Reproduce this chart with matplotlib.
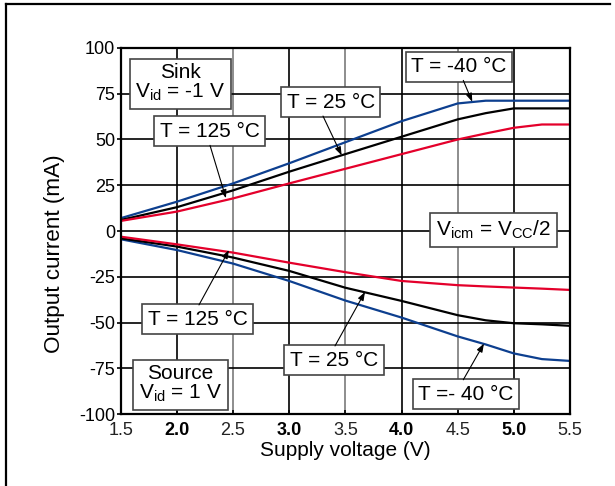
import matplotlib
matplotlib.use("Agg")
import matplotlib.pyplot as plt
from matplotlib.lines import Line2D

plt.rcParams['font.family'] = ['Liberation Sans', 'DejaVu Sans']
plt.rcParams['mathtext.fontset'] = 'custom'
plt.rcParams['mathtext.rm'] = 'Liberation Sans'
plt.rcParams['mathtext.it'] = 'Liberation Sans'

# ---- data ----
voltage = [1.5, 2.0, 2.5, 3.0, 3.5, 4.0, 4.5, 4.75, 5.0, 5.25, 5.5]
sink_m40 = [7, 16, 26, 37, 48.5, 60, 69.7, 71.2, 71.2, 71.2, 71.2]
sink_25 = [6, 13, 22.2, 32.4, 42, 51.5, 61, 64.4, 67, 67, 67]
sink_125 = [5.5, 10.6, 17.8, 26, 34, 42, 50, 53.3, 56.4, 58.2, 58.2]
source_m40 = [-4.5, -10.4, -17.8, -27.3, -38, -47.3, -57.6, -62, -66.9, -70, -71]
source_25 = [-4, -8.5, -14.5, -21.8, -31, -38.2, -46, -48.8, -50.4, -51, -51.8]
source_125 = [-3.1, -7.3, -11.8, -17.3, -22.5, -27.3, -29.6, -30.3, -30.9, -31.5, -32.2]

xticks = [1.5, 2.0, 2.5, 3.0, 3.5, 4.0, 4.5, 5.0, 5.5]
yticks = [-100, -75, -50, -25, 0, 25, 50, 75, 100]

BLUE = '#0d3f8f'
RED = '#e4002b'
BLACK = '#000000'

fig = plt.figure(figsize=(6.15, 4.86), dpi=100)
ax = fig.add_axes([120.7/615, 1-414/486, (570-120.7)/615, (414-48)/486])

ax.set_xlim(1.5, 5.5)
ax.set_ylim(-100, 100)

# grid
for x in xticks:
    col = '#000000' if float(x).is_integer() else '#7a7a7a'
    ax.axvline(x, color=col, lw=1.2, zorder=1)
for y in yticks:
    ax.axhline(y, color='#000000', lw=1.2, zorder=1)

lw = 1.6
ax.plot(voltage, sink_m40, color=BLUE, lw=lw, zorder=3)
ax.plot(voltage, sink_25, color=BLACK, lw=lw, zorder=3)
ax.plot(voltage, sink_125, color=RED, lw=lw, zorder=3)
ax.plot(voltage, source_m40, color=BLUE, lw=lw, zorder=3)
ax.plot(voltage, source_25, color=BLACK, lw=lw, zorder=3)
ax.plot(voltage, source_125, color=RED, lw=lw, zorder=3)

ax.set_xticks(xticks)
ax.set_xticklabels([f"{x:.1f}" for x in xticks], fontsize=13)
for lab, x in zip(ax.get_xticklabels(), xticks):
    if float(x).is_integer():
        lab.set_fontweight('bold')
    else:
        lab.set_color('#222222')
ax.set_yticks(yticks)
ax.set_yticklabels([str(y) for y in yticks], fontsize=13)
ax.tick_params(axis='x', direction='in', length=3, width=1.2, pad=6)
ax.tick_params(axis='y', direction='out', length=3, width=1.2, pad=1)

for s in ax.spines.values():
    s.set_linewidth(1.6)
    s.set_zorder(5)

ax.set_xlabel('Supply voltage (V)', fontsize=15, labelpad=1)
ax.set_ylabel('Output current (mA)', fontsize=16.2)
ax.yaxis.set_label_coords(-0.125, 0.437)

bbox = dict(boxstyle='square,pad=0.27', fc='white', ec='#444444', lw=1.2)
fs = 15

def label(x, y, s, ha='center'):
    ax.text(x, y, s, fontsize=fs, ha=ha, va='center', bbox=bbox, zorder=6,
            linespacing=1.0)

def arrow(tail, head):
    ax.annotate('', xy=head, xytext=tail,
                arrowprops=dict(arrowstyle='-|>,head_length=0.5,head_width=0.18',
                                color='black', lw=0.8, shrinkA=0, shrinkB=0),
                zorder=7)

label(2.031, 80.7, 'Sink\nV$_\\mathregular{id}$ = -1 V')
label(2.032, -83.7, 'Source\nV$_\\mathregular{id}$ = 1 V')

label(2.294, 54.5, 'T = 125 °C')
arrow((2.295, 46.8), (2.437, 17.9))
label(3.369, 70.3, 'T = 25 °C')
arrow((3.301, 62.8), (3.467, 41.3))
label(4.511, 89.8, 'T = -40 °C')
arrow((4.55, 82.3), (4.63, 70.6))

label(4.817, 0.4, 'V$_\\mathregular{icm}$ = V$_\\mathregular{CC}$/2')

label(2.184, -48.1, 'T = 125 °C')
arrow((2.197, -40.4), (2.464, -10.4))
label(3.399, -70.5, 'T = 25 °C')
arrow((3.408, -62.8), (3.675, -33.3))
label(4.574, -89.1, 'T =- 40 °C')
arrow((4.55, -81.3), (4.734, -61.5))

# outer frame (top and left edges visible)
fig.add_artist(Line2D([6/615, 6/615], [0, 1-4/486], transform=fig.transFigure, color='black', lw=1.6))
fig.add_artist(Line2D([6/615, 610/615], [1-4/486, 1-4/486], transform=fig.transFigure, color='black', lw=1.6))

fig.savefig('out.png', dpi=100)
